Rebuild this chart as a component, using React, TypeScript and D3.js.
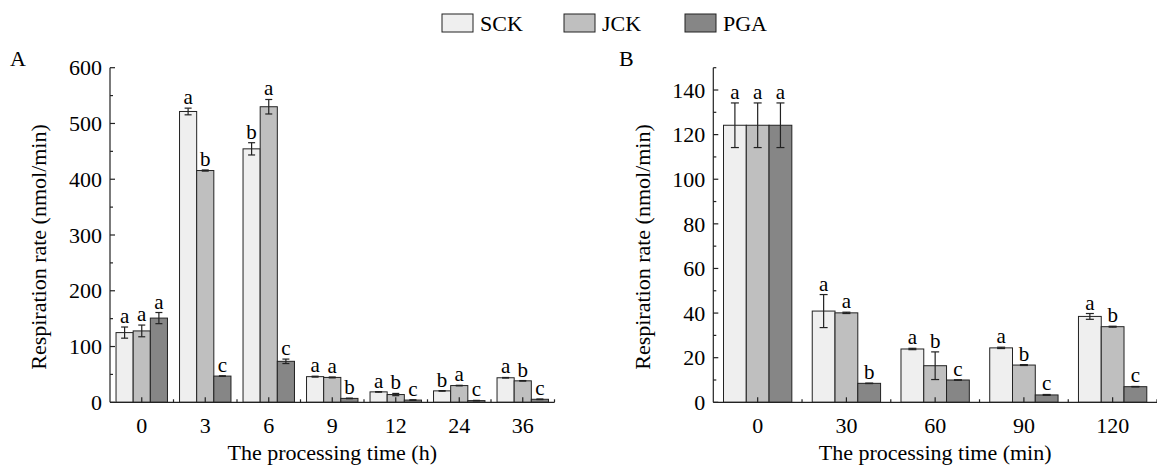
import React from "react";
import * as d3 from "d3";

const seriesNames = ["SCK", "JCK", "PGA"];
const seriesColors = ["#efefef", "#bfbfbf", "#868686"];

const catsA = ["0", "3", "6", "9", "12", "24", "36"];
const sckA = [125, 521.5, 454.5, 46, 18.7, 20.5, 44];
const jckA = [128, 415.6, 530, 44.6, 13.9, 30, 38.5];
const pgaA = [151, 47, 73.5, 7, 4, 3, 5.4];
const sckErrA = [10, 6, 11, 0.8, 0.5, 0.5, 0.5];
const jckErrA = [10.5, 1, 13, 0.8, 2, 0.5, 0.5];
const pgaErrA = [10, 0.5, 4, 0.5, 0.5, 0.5, 0.5];
const sckLetA = ["a", "a", "b", "a", "a", "b", "a"];
const jckLetA = ["a", "b", "a", "a", "b", "a", "b"];
const pgaLetA = ["a", "c", "c", "b", "c", "c", "c"];
const ticksA = [0, 100, 200, 300, 400, 500, 600];

const catsB = ["0", "30", "60", "90", "120"];
const sckB = [124.2, 40.9, 23.9, 24.4, 38.5];
const jckB = [124.2, 40.1, 16.4, 16.7, 33.9];
const pgaB = [124.2, 8.5, 10, 3.3, 7];
const sckErrB = [10, 7.4, 0.3, 0.3, 1.3];
const jckErrB = [10, 0.3, 6.2, 0.2, 0.2];
const pgaErrB = [10, 0.1, 0.1, 0.2, 0.1];
const sckLetB = ["a", "a", "a", "a", "a"];
const jckLetB = ["a", "a", "b", "b", "b"];
const pgaLetB = ["a", "b", "c", "c", "c"];
const ticksB = [0, 20, 40, 60, 80, 100, 120, 140];

const FONT = "Liberation Serif, Times New Roman, Times, DejaVu Serif, serif";

type PanelProps = {
  cats: string[];
  values: number[][];
  errs: number[][];
  letters: string[][];
  ticks: number[];
  minorStep: number;
  yMax: number;
  x0: number;
  x1: number;
  padding: number;
  capW: number;
  xTitle: string;
  yTitleX: number;
  panelLabel: string;
  panelLabelX: number;
};

const Y0 = 402.3;
const Y1 = 67.7;

function Panel(p: PanelProps) {
  const x = d3.scaleBand<string>().domain(p.cats).range([p.x0, p.x1]).paddingInner(p.padding).paddingOuter(p.padding / 2);
  const xs = d3.scaleBand<string>().domain(seriesNames).range([0, x.bandwidth()]);
  const y = d3.scaleLinear().domain([0, p.yMax]).range([Y0, Y1]);
  const step = x.step();
  const minor = d3.range(0, p.yMax + 0.001, p.minorStep).filter((v) => !p.ticks.includes(v));
  const boundaries = d3.range(1, p.cats.length + 1).map((i) => p.x0 + i * step);
  const stroke = "#222";
  return (
    <g>
      {p.cats.map((c, ci) =>
        seriesNames.map((s, si) => {
          const v = p.values[si][ci];
          const e = p.errs[si][ci];
          const bx = (x(c) as number) + (xs(s) as number);
          const bw = xs.bandwidth();
          const cx = bx + bw / 2;
          return (
            <g key={c + s}>
              <rect x={bx} y={y(v)} width={bw} height={Y0 - y(v)} fill={seriesColors[si]} stroke={stroke} strokeWidth={1} />
              <line x1={cx} x2={cx} y1={y(v + e)} y2={y(Math.max(0, v - e))} stroke={stroke} strokeWidth={1.2} />
              <line x1={cx - p.capW / 2} x2={cx + p.capW / 2} y1={y(v + e)} y2={y(v + e)} stroke={stroke} strokeWidth={1.2} />
              <line x1={cx - p.capW / 2} x2={cx + p.capW / 2} y1={y(Math.max(0, v - e))} y2={y(Math.max(0, v - e))} stroke={stroke} strokeWidth={1.2} />
              <text x={cx} y={y(v + e) - 4} textAnchor="middle" fontSize={21} style={{ fontFamily: FONT }} fill="#000">
                {p.letters[si][ci]}
              </text>
            </g>
          );
        })
      )}
      <line x1={p.x0} x2={p.x0} y1={Y0} y2={Y1} stroke={stroke} strokeWidth={1.2} />
      {p.ticks.map((t) => (
        <g key={"yt" + t}>
          <line x1={p.x0} x2={p.x0 + 5} y1={y(t)} y2={y(t)} stroke={stroke} strokeWidth={1.2} />
          <text x={p.x0 - 8} y={y(t)} dy="0.35em" textAnchor="end" fontSize={22} style={{ fontFamily: FONT }}>
            {t}
          </text>
        </g>
      ))}
      {minor.map((t) => (
        <line key={"ym" + t} x1={p.x0} x2={p.x0 + 3} y1={y(t)} y2={y(t)} stroke={stroke} strokeWidth={1.2} />
      ))}
      <line x1={p.x0} x2={p.x1} y1={Y0} y2={Y0} stroke={stroke} strokeWidth={1.2} />
      {p.cats.map((c) => {
        const cx = (x(c) as number) + x.bandwidth() / 2;
        return (
          <g key={"xt" + c}>
            <line x1={cx} x2={cx} y1={Y0} y2={Y0 - 5} stroke={stroke} strokeWidth={1.2} />
            <text x={cx} y={433} textAnchor="middle" fontSize={22} style={{ fontFamily: FONT }}>
              {c}
            </text>
          </g>
        );
      })}
      {boundaries.map((b, i) => (
        <line key={"xb" + i} x1={b} x2={b} y1={Y0} y2={Y0 - 3} stroke={stroke} strokeWidth={1.2} />
      ))}
      <text x={(p.x0 + p.x1) / 2} y={460} textAnchor="middle" fontSize={22} style={{ fontFamily: FONT }}>
        {p.xTitle}
      </text>
      <text
        transform={`translate(${p.yTitleX},${(Y0 + Y1) / 2 + 12}) rotate(-90)`}
        textAnchor="middle"
        fontSize={22}
        style={{ fontFamily: FONT }}
      >
        Respiration rate (nmol/min)
      </text>
      <text x={p.panelLabelX} y={66} fontSize={22} style={{ fontFamily: FONT }}>
        {p.panelLabel}
      </text>
    </g>
  );
}

export default function App() {
  const legendX = [442, 564, 685];
  return (
    <svg width={1157} height={466} style={{ position: "absolute", left: 0, top: 0, background: "#fff" }}>
      <rect x={0} y={0} width={1157} height={466} fill="#fff" />
      {seriesNames.map((s, i) => (
        <g key={s}>
          <rect x={legendX[i]} y={14} width={31} height={18} fill={seriesColors[i]} stroke="#222" strokeWidth={1} />
          <text x={legendX[i] + 38} y={31} fontSize={22} style={{ fontFamily: FONT }}>
            {s}
          </text>
        </g>
      ))}
      <Panel
        cats={catsA}
        values={[sckA, jckA, pgaA]}
        errs={[sckErrA, jckErrA, pgaErrA]}
        letters={[sckLetA, jckLetA, pgaLetA]}
        ticks={ticksA}
        minorStep={50}
        yMax={600}
        x0={110}
        x1={554.5}
        padding={0.19}
        capW={7}
        xTitle="The processing time (h)"
        yTitleX={46}
        panelLabel="A"
        panelLabelX={10}
      />
      <Panel
        cats={catsB}
        values={[sckB, jckB, pgaB]}
        errs={[sckErrB, jckErrB, pgaErrB]}
        letters={[sckLetB, jckLetB, pgaLetB]}
        ticks={ticksB}
        minorStep={10}
        yMax={150}
        x0={713.3}
        x1={1157}
        padding={0.23}
        capW={8}
        xTitle="The processing time (min)"
        yTitleX={650}
        panelLabel="B"
        panelLabelX={619}
      />
    </svg>
  );
}
